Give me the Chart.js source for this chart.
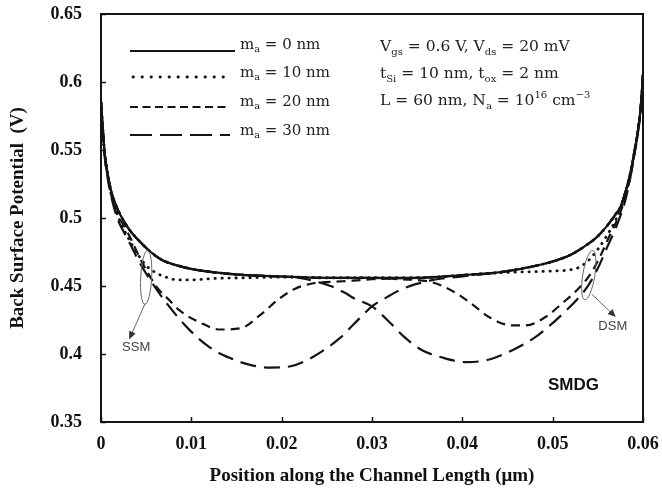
<!DOCTYPE html>
<html>
<head>
<meta charset="utf-8">
<script src="https://cdn.jsdelivr.net/npm/chart.js@4.4.1/dist/chart.umd.min.js"></script>
<style>
  html, body { margin: 0; padding: 0; background: #fff; }
  canvas { display: block; }
</style>
</head>
<body>
<canvas id="chart" width="662" height="493"></canvas>
<script>
// ─── data (x in µm, back surface potential in V) ───
const xTicks = [0, 0.01, 0.02, 0.03, 0.04, 0.05, 0.06];
const yTicks = [0.35, 0.4, 0.45, 0.5, 0.55, 0.6, 0.65];

// m_a = 0 nm (single material)
const ma0 = [[0,0.585],[0.0002,0.565],[0.0004,0.548],[0.0008,0.53],[0.0012,0.518],[0.0018,0.507],[0.0025,0.498],[0.0033,0.49],[0.0041,0.484],[0.0055,0.475],[0.0068,0.469],[0.0085,0.465],[0.0104,0.462],[0.0126,0.46],[0.016,0.458],[0.02,0.457],[0.025,0.456],[0.03,0.456],[0.035,0.456],[0.04,0.458],[0.044,0.46],[0.0475,0.464],[0.05,0.468],[0.052,0.473],[0.0535,0.479],[0.0549,0.486],[0.056,0.494],[0.057,0.503],[0.0575,0.508],[0.058,0.518],[0.0586,0.533],[0.059,0.547],[0.0595,0.567],[0.0598,0.585],[0.06,0.605]];

// m_a = 10 nm, source side / drain side
const ssm10 = [[0,0.585],[0.0002,0.565],[0.0004,0.548],[0.0008,0.529],[0.0012,0.516],[0.0018,0.503],[0.0025,0.492],[0.0033,0.482],[0.004,0.474],[0.005,0.465],[0.006,0.46],[0.007,0.457],[0.0085,0.4545],[0.01,0.4545],[0.0124,0.4555],[0.016,0.456],[0.02,0.4565],[0.025,0.456],[0.03,0.456],[0.035,0.456],[0.04,0.458],[0.044,0.46],[0.0475,0.464],[0.05,0.468],[0.052,0.473],[0.0535,0.479],[0.0549,0.486],[0.056,0.494],[0.057,0.503],[0.0575,0.508],[0.058,0.518],[0.0586,0.533],[0.059,0.547],[0.0595,0.567],[0.0598,0.585],[0.06,0.605]];
const dsm10 = [[0,0.585],[0.0002,0.565],[0.0004,0.548],[0.0008,0.53],[0.0012,0.518],[0.0018,0.507],[0.0025,0.498],[0.0033,0.49],[0.0041,0.484],[0.0055,0.475],[0.0068,0.469],[0.0085,0.465],[0.0104,0.462],[0.0126,0.46],[0.016,0.458],[0.02,0.457],[0.025,0.456],[0.03,0.456],[0.035,0.456],[0.04,0.458],[0.045,0.46],[0.05,0.461],[0.052,0.462],[0.053,0.464],[0.054,0.469],[0.055,0.477],[0.056,0.487],[0.057,0.499],[0.058,0.516],[0.0586,0.532],[0.059,0.546],[0.0595,0.567],[0.0598,0.585],[0.06,0.605]];

// m_a = 20 nm
const ssm20 = [[0,0.585],[0.0002,0.565],[0.0004,0.547],[0.0008,0.528],[0.0012,0.515],[0.0018,0.502],[0.0025,0.495],[0.0032,0.486],[0.0045,0.468],[0.0062,0.449],[0.0075,0.44],[0.0087,0.432],[0.011,0.423],[0.0132,0.418],[0.0155,0.419],[0.0175,0.428],[0.0198,0.441],[0.0215,0.448],[0.0235,0.452],[0.0255,0.453],[0.028,0.454],[0.03,0.455],[0.035,0.456],[0.04,0.458],[0.044,0.46],[0.0475,0.464],[0.05,0.468],[0.052,0.473],[0.0535,0.479],[0.0549,0.486],[0.056,0.494],[0.057,0.503],[0.0575,0.508],[0.058,0.518],[0.0586,0.533],[0.059,0.547],[0.0595,0.567],[0.0598,0.585],[0.06,0.605]];
const dsm20 = [[0,0.585],[0.0002,0.565],[0.0004,0.548],[0.0008,0.53],[0.0012,0.518],[0.0018,0.507],[0.0025,0.498],[0.0033,0.49],[0.0041,0.484],[0.0055,0.475],[0.0068,0.469],[0.0085,0.465],[0.0104,0.462],[0.0126,0.46],[0.016,0.458],[0.02,0.457],[0.025,0.456],[0.03,0.456],[0.033,0.455],[0.0365,0.453],[0.039,0.446],[0.041,0.437],[0.043,0.427],[0.0455,0.421],[0.047,0.421],[0.0494,0.428],[0.051,0.437],[0.0527,0.447],[0.0541,0.458],[0.0552,0.471],[0.0563,0.487],[0.0573,0.501],[0.058,0.514],[0.0586,0.53],[0.059,0.545],[0.0595,0.566],[0.0598,0.585],[0.06,0.605]];

// m_a = 30 nm
const ssm30 = [[0,0.585],[0.0002,0.565],[0.0004,0.546],[0.0008,0.527],[0.0012,0.514],[0.0018,0.5],[0.0025,0.49],[0.0033,0.48],[0.0042,0.468],[0.0054,0.455],[0.0073,0.437],[0.0099,0.417],[0.012,0.405],[0.0143,0.397],[0.0165,0.392],[0.0187,0.39],[0.021,0.391],[0.0235,0.398],[0.0265,0.412],[0.028,0.422],[0.03,0.435],[0.0317,0.442],[0.0334,0.448],[0.0364,0.454],[0.04,0.457],[0.044,0.46],[0.0475,0.464],[0.05,0.468],[0.052,0.473],[0.0535,0.479],[0.0549,0.486],[0.056,0.494],[0.057,0.503],[0.0575,0.508],[0.058,0.518],[0.0586,0.533],[0.059,0.547],[0.0595,0.567],[0.0598,0.585],[0.06,0.605]];
const dsm30 = [[0,0.585],[0.0002,0.565],[0.0004,0.548],[0.0008,0.53],[0.0012,0.518],[0.0018,0.507],[0.0025,0.498],[0.0033,0.49],[0.0041,0.484],[0.0055,0.475],[0.0068,0.469],[0.0085,0.465],[0.0104,0.462],[0.0126,0.46],[0.016,0.458],[0.02,0.457],[0.022,0.456],[0.0254,0.45],[0.027,0.445],[0.028,0.441],[0.03,0.435],[0.032,0.423],[0.0335,0.413],[0.0355,0.403],[0.038,0.397],[0.0405,0.394],[0.043,0.396],[0.0456,0.403],[0.048,0.412],[0.0497,0.421],[0.0515,0.432],[0.0527,0.44],[0.054,0.451],[0.055,0.463],[0.056,0.478],[0.057,0.493],[0.058,0.512],[0.0586,0.53],[0.059,0.545],[0.0595,0.566],[0.0598,0.585],[0.06,0.605]];

// line styles per m_a
const STYLE = {
  m0:  { dash: [],        width: 2.2, cap: 'butt' },
  m10: { dash: [0.4, 6.6], width: 2.8, cap: 'round' },
  m20: { dash: [9, 6],     width: 2.2, cap: 'butt' },
  m30: { dash: [16, 8],    width: 2.2, cap: 'butt' },
};

const SERIES = [
  { pts: ssm30, st: STYLE.m30 },
  { pts: dsm30, st: STYLE.m30 },
  { pts: ssm20, st: STYLE.m20 },
  { pts: dsm20, st: STYLE.m20 },
  { pts: ssm10, st: STYLE.m10 },
  { pts: dsm10, st: STYLE.m10 },
  { pts: ma0,   st: STYLE.m0 },
];

const INK = '#141414';
const SERIF = '"Liberation Serif", "Times New Roman", serif';
const MATH = '"DejaVu Serif", serif';

// ─── helpers ───
function drawRich(ctx, x, y, parts, size) {
  let cx = x;
  parts.forEach(([txt, kind]) => {
    const s = kind ? size * 0.65 : size;
    const dy = kind === 'sub' ? size * 0.32 : kind === 'sup' ? -size * 0.38 : 0;
    ctx.font = `${s}px ${MATH}`;
    ctx.fillText(txt, cx, y + dy);
    cx += ctx.measureText(txt).width;
  });
}

function arrow(ctx, x1, y1, x2, y2) {
  const a = Math.atan2(y2 - y1, x2 - x1);
  ctx.beginPath();
  ctx.moveTo(x1, y1);
  ctx.lineTo(x2 - 5 * Math.cos(a), y2 - 5 * Math.sin(a));
  ctx.stroke();
  ctx.beginPath();
  ctx.moveTo(x2, y2);
  ctx.lineTo(x2 - 8 * Math.cos(a) + 3.5 * Math.sin(a), y2 - 8 * Math.sin(a) - 3.5 * Math.cos(a));
  ctx.lineTo(x2 - 8 * Math.cos(a) - 3.5 * Math.sin(a), y2 - 8 * Math.sin(a) + 3.5 * Math.cos(a));
  ctx.closePath();
  ctx.fill();
}

// ─── frame, inward ticks, legend and notes ───
const decor = {
  id: 'decor',
  afterDraw(chart) {
    const { ctx, chartArea: a, scales: { x, y } } = chart;
    ctx.save();

    // frame
    ctx.strokeStyle = INK;
    ctx.lineWidth = 2;
    ctx.strokeRect(a.left, a.top, a.right - a.left, a.bottom - a.top);

    // inward tick marks
    ctx.lineWidth = 1.5;
    ctx.beginPath();
    yTicks.forEach(v => {
      const py = Math.round(y.getPixelForValue(v)) + 0.5;
      ctx.moveTo(a.left, py); ctx.lineTo(a.left + 5, py);
    });
    xTicks.forEach(v => {
      const px = Math.round(x.getPixelForValue(v)) + 0.5;
      ctx.moveTo(px, a.bottom); ctx.lineTo(px, a.bottom - 5);
    });
    ctx.stroke();

    // legend
    const rows = [
      { st: STYLE.m0,  y: 51,  x1: 130, x2: 235, dash: [] },
      { st: STYLE.m10, y: 77,  x1: 133, x2: 228, dash: [0.4, 8.6] },
      { st: STYLE.m20, y: 107, x1: 130, x2: 230, dash: [8, 4.5] },
      { st: STYLE.m30, y: 135, x1: 130, x2: 230, dash: [22, 8] },
    ];
    rows.forEach(r => {
      ctx.setLineDash(r.dash);
      ctx.lineCap = r.st.cap;
      ctx.lineWidth = r.st.width;
      ctx.beginPath(); ctx.moveTo(r.x1, r.y); ctx.lineTo(r.x2, r.y); ctx.stroke();
    });
    ctx.setLineDash([]);
    ctx.lineCap = 'butt';

    ctx.fillStyle = '#222';
    ctx.textBaseline = 'middle';
    ctx.textAlign = 'left';
    const labels = ['0', '10', '20', '30'];
    const ly = [45, 73, 102, 131];
    labels.forEach((m, i) => {
      drawRich(ctx, 240, ly[i], [['m'], ['a', 'sub'], [` = ${m} nm`]], 15);
    });

    // device parameters
    drawRich(ctx, 380, 47, [['V'], ['gs', 'sub'], [' = 0.6 V, V'], ['ds', 'sub'], [' = 20 mV']], 15.5);
    drawRich(ctx, 380, 74, [['t'], ['Si', 'sub'], [' = 10 nm, t'], ['ox', 'sub'], [' = 2 nm']], 15.5);
    drawRich(ctx, 380, 101, [['L = 60 nm, N'], ['a', 'sub'], [' = 10'], ['16', 'sup'], [' cm'], ['\u22123', 'sup']], 15.5);

    // SSM / DSM marks
    ctx.strokeStyle = '#666';
    ctx.fillStyle = '#333';
    ctx.lineWidth = 1;
    const sx = x.getPixelForValue(0.005), sy = y.getPixelForValue(0.4563);
    ctx.beginPath(); ctx.ellipse(sx, sy, 5.5, 27, 0.05, 0, Math.PI * 2); ctx.stroke();
    arrow(ctx, sx - 1, sy + 26, sx - 17, sy + 62);
    const dx = x.getPixelForValue(0.054), dy = y.getPixelForValue(0.458);
    ctx.beginPath(); ctx.ellipse(dx, dy, 6, 25, 0.16, 0, Math.PI * 2); ctx.stroke();
    arrow(ctx, dx + 3, dy + 19, dx + 27, dy + 42);

    ctx.fillStyle = '#444';
    ctx.font = '13px "Liberation Sans", Arial, sans-serif';
    ctx.textAlign = 'center';
    ctx.fillText('SSM', sx - 10, sy + 70);
    ctx.fillText('DSM', dx + 24, dy + 51);

    ctx.fillStyle = '#111';
    ctx.font = 'bold 17px "Liberation Sans", Arial, sans-serif';
    ctx.fillText('SMDG', x.getPixelForValue(0.0523), y.getPixelForValue(0.3772));

    ctx.restore();
  }
};

// ─── chart ───
const ctx = document.getElementById('chart').getContext('2d');
new Chart(ctx, {
  type: 'line',
  data: {
    datasets: SERIES.map(s => ({
      data: s.pts.map(([px, py]) => ({ x: px, y: py })),
      borderColor: INK,
      borderWidth: s.st.width,
      borderDash: s.st.dash,
      borderCapStyle: s.st.cap,
      pointRadius: 0,
      cubicInterpolationMode: 'monotone',
      fill: false,
    })),
  },
  options: {
    responsive: false,
    animation: false,
    devicePixelRatio: 1,
    layout: { padding: { top: 14, right: 19, left: 0, bottom: 0 } },
    plugins: { legend: { display: false }, tooltip: { enabled: false } },
    scales: {
      x: {
        type: 'linear', min: 0, max: 0.06,
        afterBuildTicks: sc => { sc.ticks = xTicks.map(v => ({ value: v })); },
        afterFit: sc => { sc.height = 71; sc.paddingLeft = 0; sc.paddingRight = 0; },
        grid: { display: false, drawTicks: false },
        border: { display: false },
        ticks: { color: '#111', padding: 12, maxRotation: 0, font: { family: SERIF, size: 18, weight: 'bold' }, callback: v => String(v) },
        title: { display: true, text: 'Position along the Channel Length (\u03bcm)', color: '#111', padding: { top: 0, bottom: 6 }, font: { family: SERIF, size: 19, weight: 'bold' } },
      },
      y: {
        type: 'linear', min: 0.35, max: 0.65,
        afterBuildTicks: sc => { sc.ticks = yTicks.map(v => ({ value: v })); },
        afterFit: sc => { sc.width = 101; sc.paddingTop = 0; sc.paddingBottom = 0; },
        grid: { display: false, drawTicks: false },
        border: { display: false },
        ticks: { color: '#111', padding: 19, font: { family: SERIF, size: 18, weight: 'bold' }, callback: v => String(v) },
        title: { display: true, text: 'Back Surface Potential  (V)', color: '#111', padding: { top: 7, bottom: 0 }, font: { family: SERIF, size: 19, weight: 'bold' } },
      },
    },
  },
  plugins: [decor],
});
</script>
</body>
</html>
